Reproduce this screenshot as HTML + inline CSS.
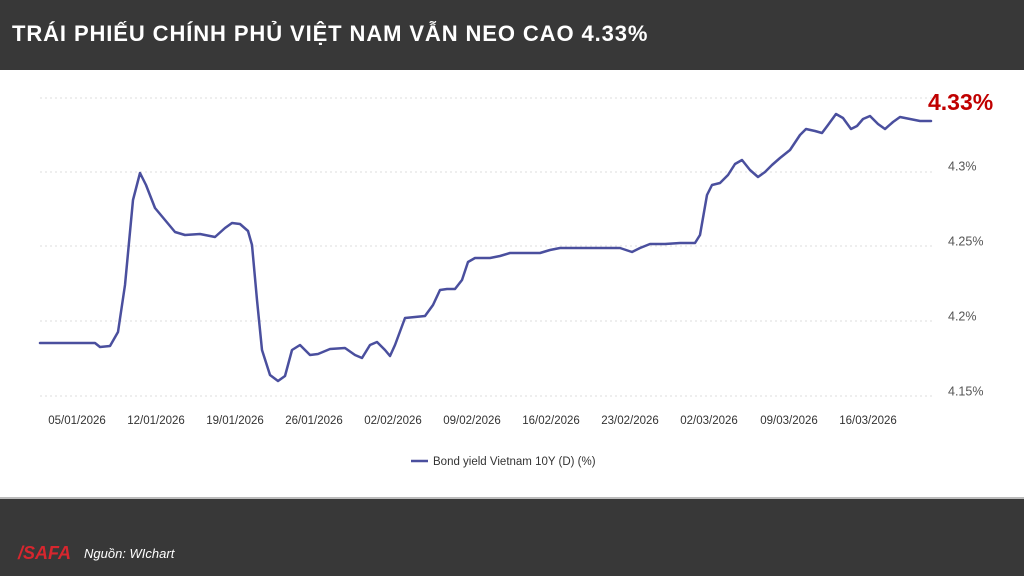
<!DOCTYPE html>
<html><head><meta charset="utf-8"><style>
body{margin:0;width:1024px;height:576px;overflow:hidden;background:#fff;font-family:"Liberation Sans",sans-serif}
.top{position:absolute;left:0;top:0;width:1024px;height:70px;background:#383838}
.top div{position:absolute;left:12px;top:21px;color:#fff;font-weight:bold;font-size:22px;letter-spacing:0.9px}
.bot{position:absolute;left:0;top:497px;width:1024px;height:79px;background:#383838;border-top:2px solid #bbb;box-sizing:border-box}
</style></head><body>
<div class="top"><div>TRÁI PHIẾU CHÍNH PHỦ VIỆT NAM VẪN NEO CAO 4.33%</div></div>
<svg width="1024" height="576" style="position:absolute;left:0;top:0">
<g stroke="#ddd" stroke-dasharray="2,3" stroke-width="1">
<line x1="40" y1="98" x2="932" y2="98"/><line x1="40" y1="172" x2="932" y2="172"/>
<line x1="40" y1="246" x2="932" y2="246"/><line x1="40" y1="321" x2="932" y2="321"/>
<line x1="40" y1="396" x2="932" y2="396"/></g>
<g font-size="12.5" fill="#555">
<text x="948" y="167" dominant-baseline="middle">4.3%</text>
<text x="948" y="242" dominant-baseline="middle">4.25%</text>
<text x="948" y="317" dominant-baseline="middle">4.2%</text>
<text x="948" y="392" dominant-baseline="middle">4.15%</text>
</g>
<g font-size="11.5" fill="#333" text-anchor="middle">
<text x="77" y="424">05/01/2026</text><text x="156" y="424">12/01/2026</text><text x="235" y="424">19/01/2026</text><text x="314" y="424">26/01/2026</text><text x="393" y="424">02/02/2026</text><text x="472" y="424">09/02/2026</text><text x="551" y="424">16/02/2026</text><text x="630" y="424">23/02/2026</text><text x="709" y="424">02/03/2026</text><text x="789" y="424">09/03/2026</text><text x="868" y="424">16/03/2026</text>
</g>
<text x="928" y="110" font-size="23" font-weight="bold" fill="#c00000">4.33%</text>
<polyline fill="none" stroke="#4a4f9e" stroke-width="2.5" stroke-linejoin="round" stroke-linecap="round" points="40,343 95,343 100,347 110,346 118,332 125,285 133,200 140,173 146,185 155,208 165,220 175,232 185,235 200,234 215,237 225,228 232,223 240,224 248,231 252,245 257,300 262,350 270,375 278,381 285,376 292,350 300,345 310,355 318,354 330,349 345,348 355,355 362,358 370,345 377,342 385,350 390,356 395,345 405,318 415,317 425,316 433,305 440,290 447,289 455,289 462,280 468,262 475,258 490,258 500,256 510,253 520,253 540,253 550,250 560,248 580,248 620,248 632,252 640,248 650,244 665,244 680,243 695,243 700,235 707,195 712,185 720,183 728,175 735,164 742,160 750,170 758,177 765,172 772,165 780,158 790,150 800,135 806,129 815,131 822,133 828,125 836,114 843,118 851,129 857,126 863,119 870,116 878,124 885,129 893,122 900,117 910,119 920,121 931,121"/>
<line x1="411" y1="461" x2="428" y2="461" stroke="#4a4f9e" stroke-width="2.5"/>
<text x="433" y="465" font-size="11.5" fill="#333">Bond yield Vietnam 10Y (D) (%)</text>
</svg>
<div class="bot">
<div style="position:absolute;left:18px;top:44px;color:#d7262e;font-weight:bold;font-style:italic;font-size:18px">/SAFA</div>
<div style="position:absolute;left:84px;top:47px;color:#fff;font-style:italic;font-size:13px">Nguồn: WIchart</div>
</div>
</body></html>
